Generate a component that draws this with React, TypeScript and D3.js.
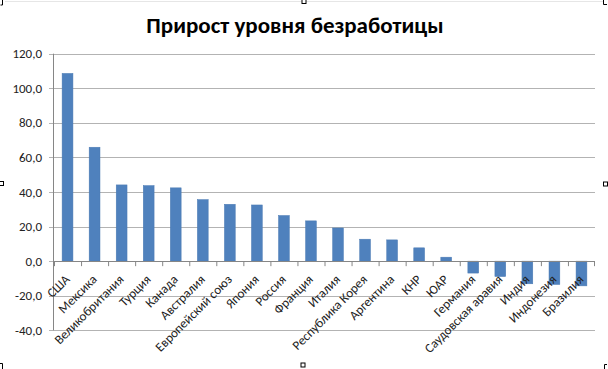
import React from "react";
import * as d3 from "d3";

const title = "Прирост уровня безработицы";
const categories = [
  "США", "Мексика", "Великобритания", "Турция", "Канада", "Австралия",
  "Европейский союз", "Япония", "Россия", "Франция", "Италия", "Республика Корея",
  "Аргентина", "КНР", "ЮАР", "Германия", "Саудовская аравия", "Индия", "Индонезия", "Бразилия",
];
const values = [
  108.6, 65.9, 44.1, 43.7, 42.4, 35.6, 32.9, 32.5, 26.4, 23.3, 19.2, 12.7,
  12.3, 7.7, 2.3, -6.9, -8.9, -13.1, -13.5, -14.3,
];
const yTicks = [-40, -20, 0, 20, 40, 60, 80, 100, 120];

const W = 608, H = 369;
const plot = { left: 54, right: 595, top: 53.7, bottom: 330.3 };
const font = "Carlito, Calibri, 'Open Sans', 'Liberation Sans', sans-serif";

export default function App() {
  const x = d3.scaleBand<string>().domain(categories).range([plot.left, plot.right]).paddingInner(0.6).paddingOuter(0.3);
  const xb = d3.scaleBand<string>().domain(categories).range([plot.left, plot.right]);
  const y = d3.scaleLinear().domain([-40, 120]).range([plot.bottom, plot.top]);
  const fmt = (v: number) => v.toFixed(1).replace(".", ",");
  const y0 = y(0);
  const handle = (cx: number, cy: number, k: string) => (
    <rect key={k} x={cx - 2} y={cy - 2} width={4} height={4} fill="#fff" stroke="#000" strokeWidth={1} />
  );
  return (
    <svg width={W} height={H} style={{ position: "absolute", left: 0, top: 0, display: "block" }}>
      <rect x={0} y={0} width={W} height={H} fill="#fff" />
      <line x1={5} x2={W - 5} y1={1.5} y2={1.5} stroke="#e6e6e6" />
      <text x={295} y={33} textAnchor="middle" fontFamily={font} fontWeight="bold" fontSize={23} fill="#000">{title}</text>
      {yTicks.map((t) => (
        <g key={t}>
          <line x1={plot.left - 5} x2={plot.right} y1={Math.round(y(t)) + 0.5} y2={Math.round(y(t)) + 0.5} stroke="#b3b3b3" strokeWidth={1} />
          <text x={42} y={y(t) + 4.5} textAnchor="end" fontFamily={font} fontSize={13} fill="#222">{fmt(t)}</text>
        </g>
      ))}
      <line x1={plot.left - 0.5} x2={plot.left - 0.5} y1={plot.top} y2={plot.bottom} stroke="#868686" />
      {values.map((v, i) => {
        const c = categories[i];
        return (
          <rect key={c} x={x(c)!} width={x.bandwidth()} y={Math.min(y(v), y0)} height={Math.abs(y(v) - y0)} fill="#4f81bd" stroke="#4a7ab3" strokeWidth={0.5} />
        );
      })}
      <line x1={plot.left} x2={plot.right} y1={Math.round(y0) + 0.5} y2={Math.round(y0) + 0.5} stroke="#868686" />
      {categories.map((c, i) => (
        <line key={"t" + i} x1={xb(c)! + 0.5} x2={xb(c)! + 0.5} y1={y0} y2={y0 + 5} stroke="#868686" />
      ))}
      <line x1={plot.right - 0.5} x2={plot.right - 0.5} y1={y0} y2={y0 + 5} stroke="#868686" />
      {categories.map((c) => {
        const cx = xb(c)! + xb.bandwidth() / 2 + 3;
        const cy = y0 + 19;
        return (
          <text key={"l" + c} x={cx} y={cy} transform={`rotate(-45 ${cx} ${cy})`} textAnchor="end" fontFamily={font} fontSize={13} fill="#222">{c}</text>
        );
      })}
      {handle(1.5, 183.5, "hl")}
      {handle(605.5, 184, "hr")}
      {handle(304, 1.5, "ht")}
      {handle(303, 365, "hb")}
      <path d="M0.5,5 L2.5,5 L2.5,0" fill="none" stroke="#000" />
      <path d="M603.5,0 L603.5,4.5 L607,4.5" fill="none" stroke="#000" />
      <path d="M0,363.5 L2.5,363.5 L2.5,369" fill="none" stroke="#000" />
      <path d="M607,364.5 L604.5,364.5 L604.5,369" fill="none" stroke="#000" />
    </svg>
  );
}
